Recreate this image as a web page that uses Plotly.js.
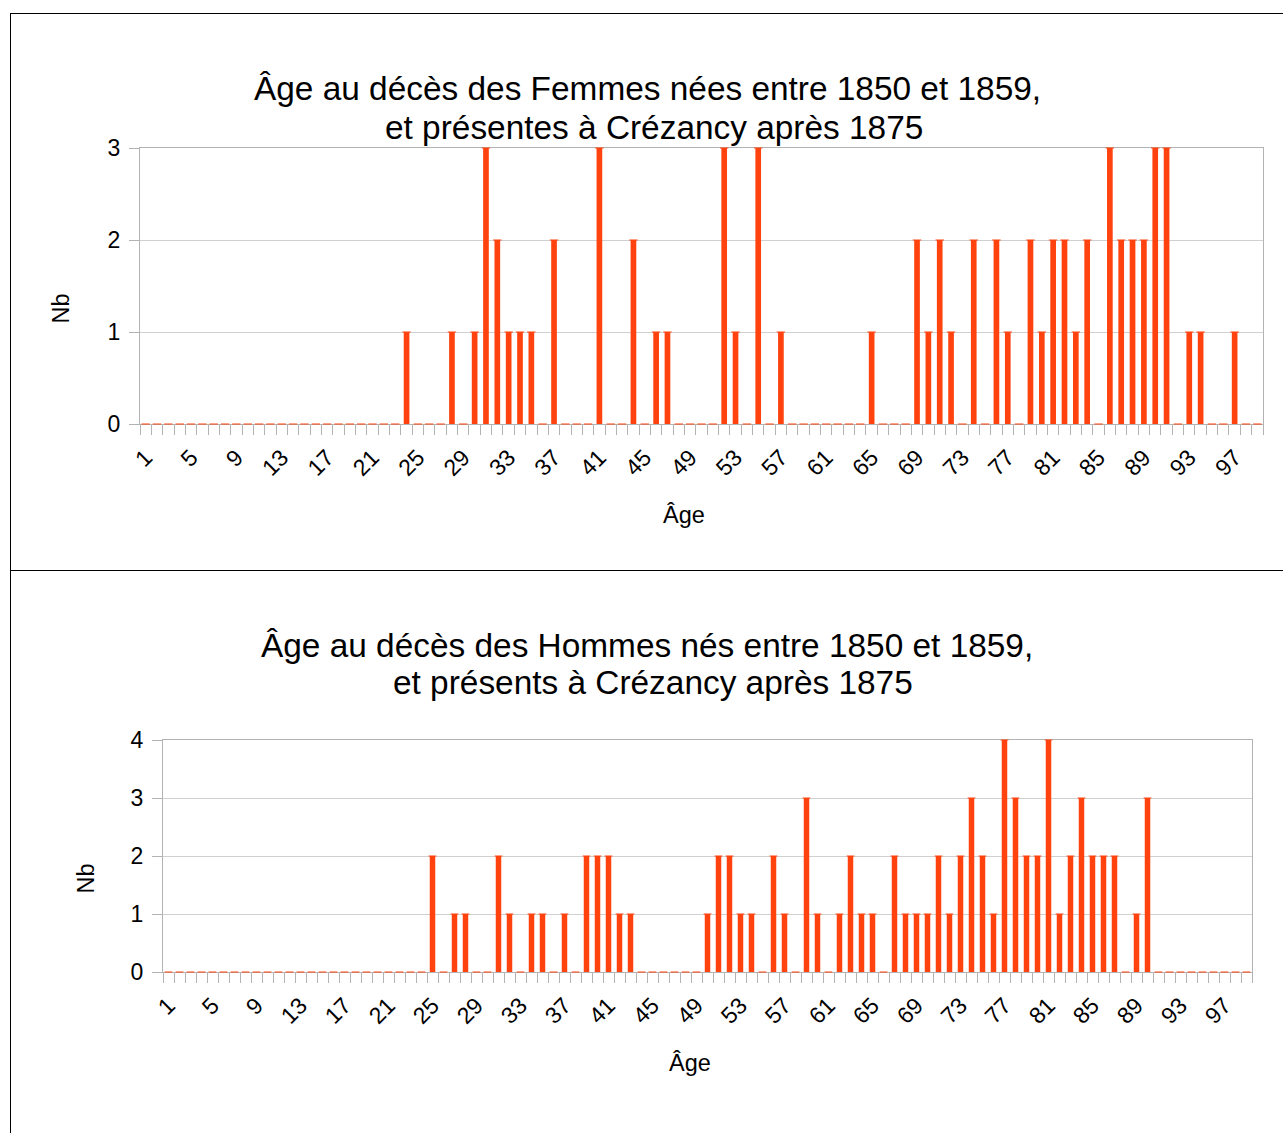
<!DOCTYPE html>
<html>
<head>
<meta charset="utf-8">
<script src="https://cdn.plot.ly/plotly-3.0.1.min.js"></script>
<style>
  body { margin: 0; background: #fff; overflow: hidden; }
  .box { position: absolute; left: 10px; border-left: 1px solid #000; border-top: 1px solid #000; width: 1272px; }
</style>
</head>
<body>
<div id="femmes" class="box" style="top:13px;height:556px"></div>
<div id="hommes" class="box" style="top:570px;height:562px"></div>
<script>
// ages 1 .. 99
var ages = [
  1, 2, 3, 4, 5, 6, 7, 8, 9, 10,
  11, 12, 13, 14, 15, 16, 17, 18, 19, 20,
  21, 22, 23, 24, 25, 26, 27, 28, 29, 30,
  31, 32, 33, 34, 35, 36, 37, 38, 39, 40,
  41, 42, 43, 44, 45, 46, 47, 48, 49, 50,
  51, 52, 53, 54, 55, 56, 57, 58, 59, 60,
  61, 62, 63, 64, 65, 66, 67, 68, 69, 70,
  71, 72, 73, 74, 75, 76, 77, 78, 79, 80,
  81, 82, 83, 84, 85, 86, 87, 88, 89, 90,
  91, 92, 93, 94, 95, 96, 97, 98, 99
];

var nbFemmes = [
  0, 0, 0, 0, 0, 0, 0, 0, 0, 0,
  0, 0, 0, 0, 0, 0, 0, 0, 0, 0,
  0, 0, 0, 1, 0, 0, 0, 1, 0, 1,
  3, 2, 1, 1, 1, 0, 2, 0, 0, 0,
  3, 0, 0, 2, 0, 1, 1, 0, 0, 0,
  0, 3, 1, 0, 3, 0, 1, 0, 0, 0,
  0, 0, 0, 0, 1, 0, 0, 0, 2, 1,
  2, 1, 0, 2, 0, 2, 1, 0, 2, 1,
  2, 2, 1, 2, 0, 3, 2, 2, 2, 3,
  3, 0, 1, 1, 0, 0, 1, 0, 0
];

var nbHommes = [
  0, 0, 0, 0, 0, 0, 0, 0, 0, 0,
  0, 0, 0, 0, 0, 0, 0, 0, 0, 0,
  0, 0, 0, 0, 2, 0, 1, 1, 0, 0,
  2, 1, 0, 1, 1, 0, 1, 0, 2, 2,
  2, 1, 1, 0, 0, 0, 0, 0, 0, 1,
  2, 2, 1, 1, 0, 2, 1, 0, 3, 1,
  0, 1, 2, 1, 1, 0, 2, 1, 1, 1,
  2, 1, 2, 3, 2, 1, 4, 3, 2, 2,
  4, 1, 2, 3, 2, 2, 2, 0, 1, 3,
  0, 0, 0, 0, 0, 0, 0, 0, 0
];

var titreFemmes = ['Âge au décès des Femmes nées entre 1850 et 1859,', 'et présentes à Crézancy après 1875'];
var titreHommes = ['Âge au décès des Hommes nés entre 1850 et 1859,', 'et présents à Crézancy après 1875'];

var orange = '#ff420e';
var police = 'Liberation Sans, Arial, sans-serif';

function traces(vals, dash) {
  var barres = {
    x: ages, y: vals, type: 'bar',
    marker: {color: orange},
    hoverinfo: 'skip'
  };
  // LibreOffice shows the zero values as a thin stroke on the baseline
  var traits = {
    x: ages, y: vals, type: 'scatter', mode: 'markers',
    marker: {symbol: 'line-ew', size: dash, color: orange, line: {color: orange, width: 1}},
    cliponaxis: false,
    hoverinfo: 'skip'
  };
  return [barres, traits];
}

function mise(o) {
  var a = function (txt, x, y, size, angle) {
    return {text: txt, xref: 'paper', yref: 'paper', x: x, y: y,
      xanchor: 'center', yanchor: 'middle', showarrow: false,
      textangle: angle || 0, font: {family: police, size: size, color: '#000'}};
  };
  return {
    width: 1272, height: o.h,
    margin: o.m,
    paper_bgcolor: '#fff', plot_bgcolor: '#fff',
    font: {family: police, size: 23, color: '#000'},
    showlegend: false,
    bargap: 0.5,
    xaxis: {
      range: [0.5, 99.5], tickmode: 'linear', tick0: 1, dtick: 4,
      tickangle: -45, ticks: 'outside', ticklen: 10, tickcolor: 'rgba(0,0,0,0)',
      showgrid: false, zeroline: false,
      showline: true, linecolor: '#b3b3b3', mirror: true, layer: 'below traces',
      minor: {ticks: 'outside', tick0: 0.5, dtick: 1, ticklen: 10, tickcolor: '#b3b3b3', showgrid: false},
      tickfont: {size: 23}
    },
    yaxis: {
      range: [0, o.ymax], tickmode: 'linear', tick0: 0, dtick: 1,
      ticks: 'outside', ticklen: 10, tickcolor: '#b3b3b3', ticklabelstandoff: 4,
      gridcolor: '#d0d0d0', zeroline: false,
      showline: true, linecolor: '#b3b3b3', mirror: true, layer: 'below traces',
      tickfont: {size: 23}
    },
    annotations: [
      a(o.titre[0], o.t1[0], o.t1[1], 33.4),
      a(o.titre[1], o.t2[0], o.t2[1], 33.4),
      a('Âge', o.ax[0], o.ax[1], 23.5),
      a('Nb', o.ay[0], o.ay[1], 23.5, -90)
    ]
  };
}

var cfg = {staticPlot: true, displayModeBar: false};

Plotly.newPlot('femmes', traces(nbFemmes, 6), mise({
  h: 556, m: {l: 129, r: 20, t: 134, b: 146}, ymax: 3, titre: titreFemmes,
  t1: [0.4519, 1.2145], t2: [0.4573, 1.0757], ax: [0.4844, -0.3297], ay: [-0.0703, 0.4185]
}), cfg);

Plotly.newPlot('hommes', traces(nbHommes, 5.5), mise({
  h: 562, m: {l: 152, r: 31, t: 169, b: 161}, ymax: 4, titre: titreHommes,
  t1: [0.4449, 1.4073], t2: [0.4504, 1.2466], ax: [0.4839, -0.392], ay: [-0.0716, 0.403]
}), cfg);
</script>
</body>
</html>
